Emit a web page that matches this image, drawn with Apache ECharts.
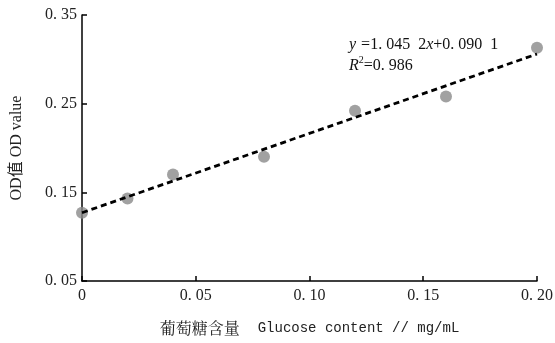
<!DOCTYPE html>
<html>
<head>
<meta charset="utf-8">
<script src="https://cdn.jsdelivr.net/npm/echarts@6/dist/echarts.min.js"></script>
<style>html,body{margin:0;padding:0;background:#fff}#c{width:555px;height:343px}</style>
</head>
<body>
<div id="c"></div>
<script>
// Data
const glucose = [0, 0.02, 0.04, 0.08, 0.12, 0.16, 0.20];
const odValue = [0.127, 0.143, 0.170, 0.190, 0.242, 0.258, 0.313];
const trendX = [0, 0.20];
const trendY = [0.127, 0.306];
const xTicks = [0, 0.05, 0.10, 0.15, 0.20];
const yTicks = [0.05, 0.15, 0.25, 0.35];

const fmt = v => {
  if (Math.abs(v) < 1e-9) return '0';
  return v.toFixed(2).replace('0.', '0. ');
};

const chart = echarts.init(document.getElementById('c'), null, {renderer: 'canvas'});
const serif = '"Liberation Serif", "Noto Sans CJK SC", serif';
chart.setOption({
  backgroundColor: '#fff',
  animation: false,
  grid: {left: 82, right: 18, top: 15, bottom: 62, containLabel: false, outerBoundsMode: 'none'},
  title: {
    left: 344, top: 29,
    text: '{i|y} {n|=1. 045  2}{i|x}{n|+0. 090  1}\n{i|R}{s|2}{n|=0. 986}',
    textStyle: {
      fontWeight: 'normal',
      lineHeight: 21,
      rich: {
        i: {fontFamily: serif, fontStyle: 'italic', fontWeight: 'normal', fontSize: 16, color: '#111', lineHeight: 21},
        n: {fontFamily: serif, fontWeight: 'normal', fontSize: 16, color: '#111', lineHeight: 21},
        s: {fontFamily: serif, fontWeight: 'normal', fontSize: 10, color: '#111', verticalAlign: 'top', lineHeight: 21, padding: [0,0,6,0]}
      }
    }
  },
  xAxis: {
    type: 'value',
    min: xTicks[0], max: xTicks[xTicks.length - 1], interval: 0.05,
    name: '{c|葡萄糖含量}{e|Glucose content // mg/mL}',
    nameLocation: 'middle', nameGap: 39,
    nameTextStyle: {
      rich: {
        c: {fontFamily: '"Noto Serif CJK SC", "Noto Sans CJK SC", serif', fontSize: 16, color: '#222'},
        e: {fontFamily: '"Liberation Mono", monospace', fontSize: 14, color: '#222', padding: [0, 0, 0, 18]}
      }
    },
    axisLine: {lineStyle: {color: '#000', width: 1.5}},
    axisTick: {inside: true, length: 5, lineStyle: {color: '#000', width: 1.5}},
    axisLabel: {fontFamily: serif, fontSize: 16, color: '#222', margin: 7, formatter: fmt},
    splitLine: {show: false}
  },
  yAxis: {
    type: 'value',
    min: yTicks[0], max: yTicks[yTicks.length - 1], interval: 0.1,
    name: 'OD值 OD value',
    nameLocation: 'middle', nameGap: 57,
    nameTextStyle: {fontFamily: serif, fontSize: 16, color: '#222'},
    axisLine: {lineStyle: {color: '#000', width: 1.5}},
    axisTick: {inside: true, length: 5, lineStyle: {color: '#000', width: 1.5}},
    axisLabel: {fontFamily: serif, fontSize: 16, color: '#222', margin: 5, formatter: fmt},
    splitLine: {show: false}
  },
  series: [
    {
      type: 'scatter',
      data: glucose.map((x, i) => [x, odValue[i]]),
      symbolSize: 12,
      itemStyle: {color: '#8a8a8a'},
      z: 2
    },
    {
      type: 'line',
      data: trendX.map((x, i) => [x, trendY[i]]),
      symbol: 'none',
      lineStyle: {color: '#000', width: 2.8, type: [6, 4]},
      z: 3
    }
  ]
});
</script>
</body>
</html>
